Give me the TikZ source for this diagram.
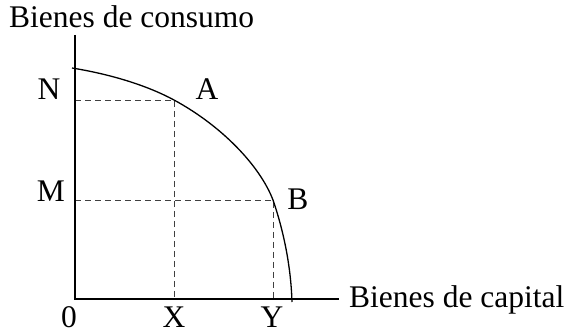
\documentclass[tikz,border=0pt]{standalone}
\usepackage{fontspec}
\setmainfont{Liberation Serif}
\begin{document}
\begin{tikzpicture}[x=1pt,y=-1pt,
  axis/.style={line width=1.3pt,black},
  guide/.style={line width=0.9pt,black!75,dash pattern=on 6pt off 4pt},
  curvestyle/.style={line width=1.3pt,black},
  lbl/.style={inner sep=0pt,font=\fontsize{31.5}{36}\selectfont}]
\useasboundingbox (0,0) rectangle (571,334);
\coordinate (O) at (75,299);
\coordinate (ytop) at (75,35);
\coordinate (xend) at (339,299);
\coordinate (start) at (72,68);
\coordinate (pA) at (174,100);
\coordinate (pB) at (273,200);
\coordinate (stop) at (292,302);
\coordinate (pN) at (75,100);
\coordinate (pM) at (75,200);
\coordinate (pX) at (174,299);
\coordinate (pY) at (273,299);
\draw[guide] (pN) -- (pA) -- (pX);
\draw[guide] (pM) -- (pB) -- (pY);
\draw[axis] (ytop) -- (O) -- (xend);
\draw[curvestyle] (start) .. controls (115,75) and (150,87) .. (pA)
  .. controls (222,126) and (260,166) .. (pB)
  .. controls (285,235) and (291,270) .. (stop);
\node[lbl,anchor=base west] (ylab) at (9,28) {Bienes de consumo};
\node[lbl,anchor=base west] (xlab) at (349,308) {Bienes de capital};
\node[lbl,anchor=base] (lN) at (49,100) {N};
\node[lbl,anchor=base] (lA) at (207,100) {A};
\node[lbl,anchor=base] (lM) at (51,202) {M};
\node[lbl,anchor=base] (lB) at (298,210) {B};
\node[lbl,anchor=base] (l0) at (69,327) {0};
\node[lbl,anchor=base] (lX) at (174,327) {X};
\node[lbl,anchor=base] (lY) at (272,327) {Y};
\end{tikzpicture}
\end{document}
